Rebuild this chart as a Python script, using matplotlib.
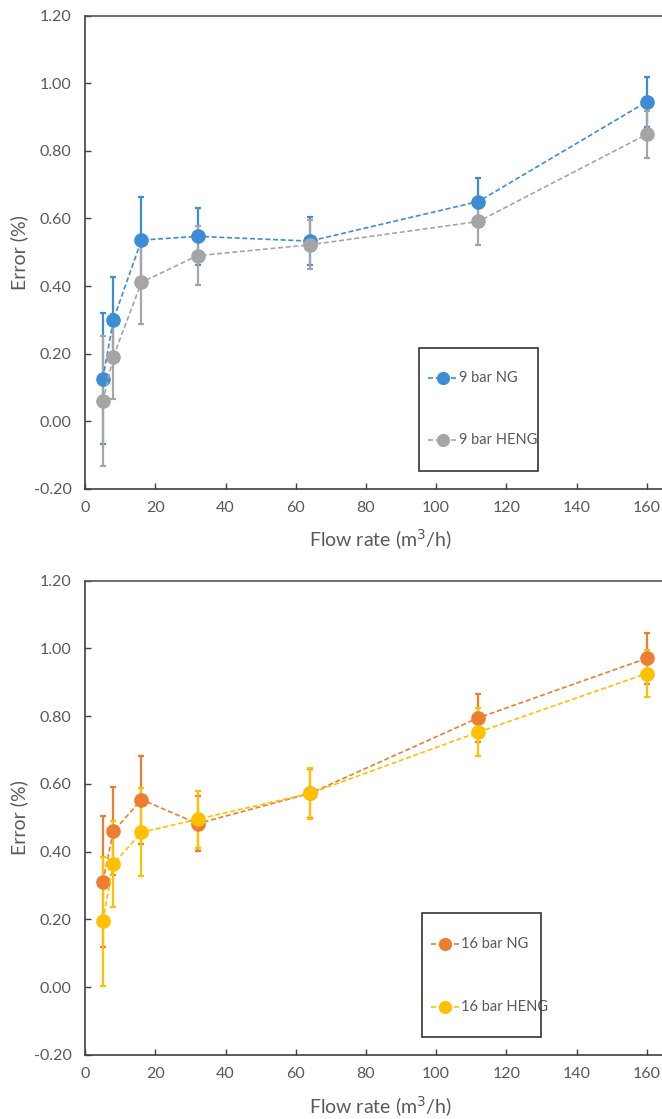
import matplotlib
matplotlib.use("Agg")
import matplotlib.pyplot as plt
from matplotlib.patches import Rectangle
from matplotlib.lines import Line2D

plt.rcParams['font.family'] = ['Lato', 'DejaVu Sans']

# ---------------- data ----------------
flow = [5, 8, 16, 32, 64, 112, 160]

ng9 = [0.126, 0.300, 0.536, 0.547, 0.533, 0.650, 0.945]
ng9_err = [0.194, 0.128, 0.128, 0.084, 0.071, 0.070, 0.073]
heng9 = [0.059, 0.191, 0.411, 0.490, 0.522, 0.591, 0.849]
heng9_err = [0.193, 0.125, 0.124, 0.088, 0.072, 0.071, 0.070]

ng16 = [0.312, 0.460, 0.554, 0.483, 0.572, 0.795, 0.971]
ng16_err = [0.192, 0.130, 0.130, 0.082, 0.072, 0.071, 0.076]
heng16 = [0.195, 0.364, 0.457, 0.496, 0.572, 0.753, 0.926]
heng16_err = [0.190, 0.128, 0.130, 0.084, 0.074, 0.070, 0.070]

labels_top = ["9 bar NG", "9 bar HENG"]
labels_bot = ["16 bar NG", "16 bar HENG"]
yticks = [-0.20, 0.00, 0.20, 0.40, 0.60, 0.80, 1.00, 1.20]
xticks = [0, 20, 40, 60, 80, 100, 120, 140, 160]

C_BLUE = "#3C8DD6"
C_GRAY = "#A5A5A5"
C_ORANGE = "#ED7D31"
C_YELLOW = "#FFC000"
TXT = "#595959"
SPINE = "#404040"

W, H = 662, 1119
fig = plt.figure(figsize=(W / 100, H / 100), dpi=100)

x0_px = 85.3
px_per_unit = (646.7 - 85.3) / 160
xmax = 168
ax_w = xmax * px_per_unit


def make_axes(top_px, bot_px):
    return fig.add_axes([x0_px / W, 1 - bot_px / H, ax_w / W, (bot_px - top_px) / H])


def style(ax):
    ax.set_xlim(0, xmax)
    ax.set_ylim(-0.20, 1.20)
    ax.set_yticks(yticks)
    ax.set_yticklabels([f"{v:.2f}" for v in yticks])
    ax.set_xticks(xticks)
    ax.set_xticklabels([str(v) for v in xticks])
    for s in ["left", "bottom", "top", "right"]:
        ax.spines[s].set_color(SPINE)
        ax.spines[s].set_linewidth(1.2)
    ax.spines["top"].set_color("#555555")
    ax.tick_params(direction="in", length=4, width=1, colors=SPINE,
                   labelcolor=TXT, labelsize=11.5, pad=10)
    ax.tick_params(axis="x", pad=9)
    ax.set_ylabel("Error (%)", fontsize=14, color=TXT, labelpad=4)
    ax.set_xlabel("Flow rate (m$^3$/h)", fontsize=14, color=TXT, labelpad=9)


def series(ax, y, err, color):
    ax.errorbar(flow, y, yerr=err, fmt="o", color=color, ecolor=color,
                elinewidth=1.6, capsize=2.2, capthick=1.6, markersize=9.5,
                linestyle=(0, (3, 1.6)), linewidth=1.2, zorder=3)


def legend_box(ax, top_px, bot_px, left_px, right_px, entries):
    rect = Rectangle((left_px / W, 1 - bot_px / H), (right_px - left_px) / W,
                     (bot_px - top_px) / H, transform=fig.transFigure,
                     fill=False, edgecolor="#333333", linewidth=1.2, zorder=10)
    fig.patches.append(rect)
    for (label, color, ypx) in entries:
        yf = 1 - ypx / H
        l = Line2D([(left_px + 9) / W, (left_px + 37.5) / W], [yf, yf],
                   transform=fig.transFigure, color=color,
                   linestyle=(0, (3, 1.6)), linewidth=1.2)
        fig.lines.append(l)
        m = Line2D([(left_px + 23.4) / W], [yf], transform=fig.transFigure,
                   marker="o", markersize=8.5, color=color, linestyle="none")
        fig.lines.append(m)
        fig.text((left_px + 39.5) / W, yf, label, fontsize=10.5, color=TXT,
                 va="center", ha="left")


# top chart
ax1 = make_axes(15.7, 488.8)
series(ax1, ng9, ng9_err, C_BLUE)
series(ax1, heng9, heng9_err, C_GRAY)
style(ax1)
legend_box(ax1, 347.7, 471, 419.3, 538.3,
           [(labels_top[0], C_BLUE, 378.3), (labels_top[1], C_GRAY, 440)])

# bottom chart
ax2 = make_axes(580.7, 1055)
series(ax2, ng16, ng16_err, C_ORANGE)
series(ax2, heng16, heng16_err, C_YELLOW)
style(ax2)
legend_box(ax2, 913.3, 1036.7, 421.7, 540.7,
           [(labels_bot[0], C_ORANGE, 944.3), (labels_bot[1], C_YELLOW, 1006.7)])

fig.savefig("out.png", dpi=100)
